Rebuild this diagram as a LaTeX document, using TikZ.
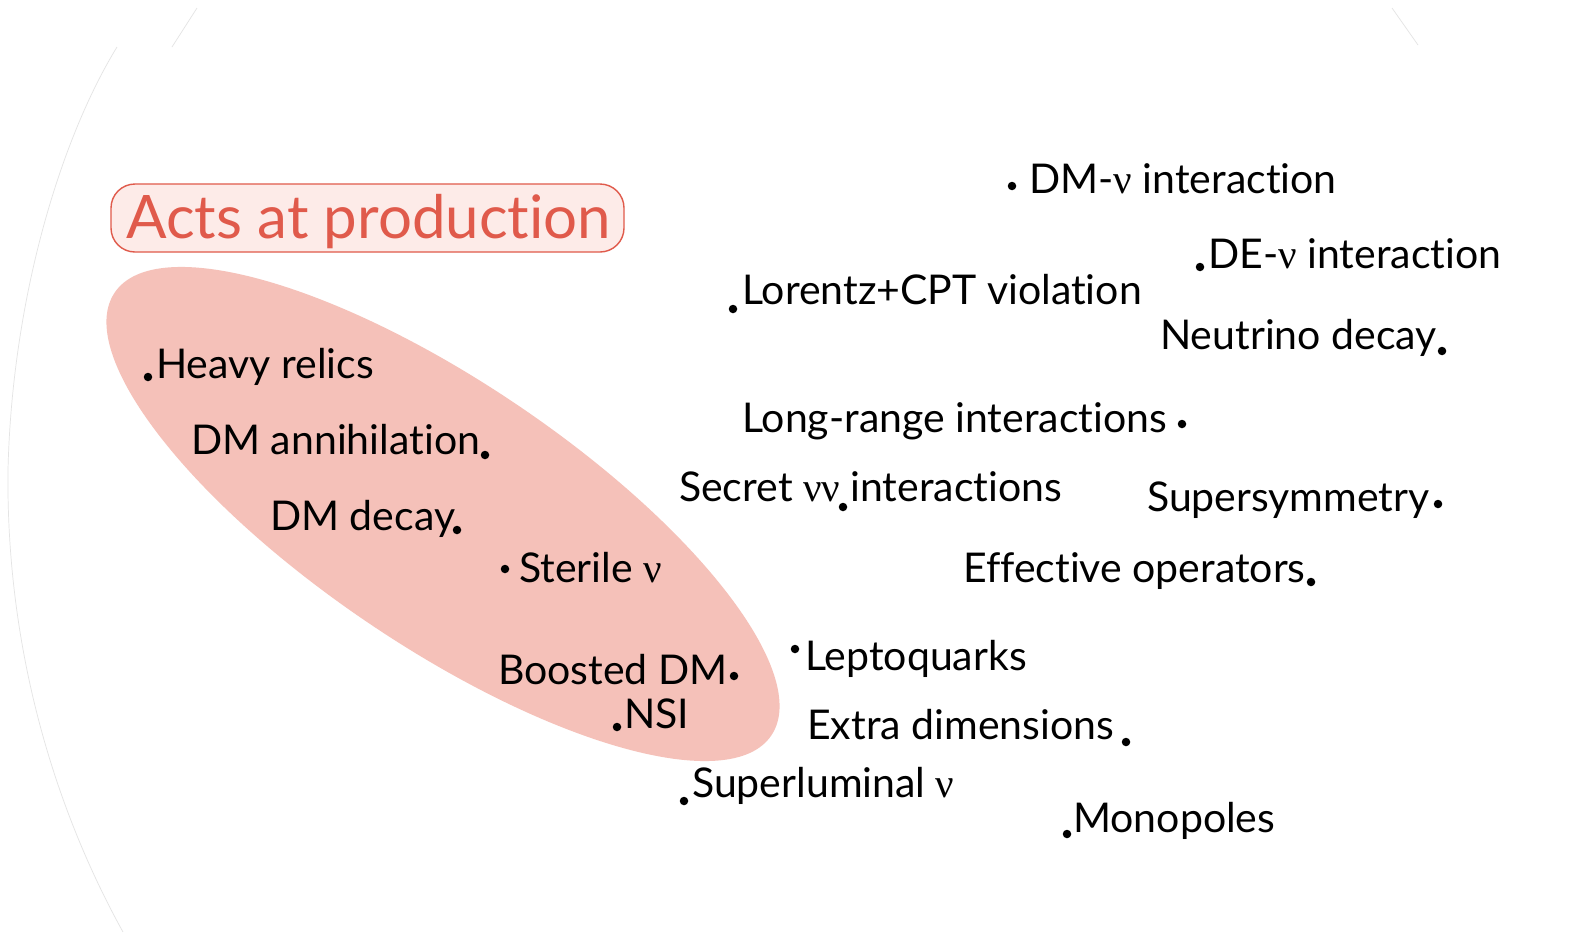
\documentclass[tikz,border=0pt]{standalone}
\usepackage{fontspec}
\setmainfont{Lato}[Ligatures={NoCommon}]
\newfontfamily\nufont{Liberation Serif}
\newcommand{\nus}{{\nufont ν}}
\definecolor{blobpink}{HTML}{F5C1B9}
\definecolor{tagred}{HTML}{E05A4B}
\definecolor{tagfill}{HTML}{FDEBE8}
\definecolor{rimgray}{HTML}{E4E4E4}
\begin{document}
\begin{tikzpicture}[x=1pt,y=-1pt,
  lbl/.style={anchor=base west, inner sep=0pt, font=\fontsize{41}{48}\selectfont, text=black},
  pt/.style={circle, fill=black, inner sep=0pt, minimum size=8.5pt},
  rim/.style={draw=rimgray, line width=0.7pt}]
\useasboundingbox (0,0) rectangle (1578,932);
\fill[white] (0,0) rectangle (1578,932);

% faint outline of the backdrop disc
\draw[rim] (117,47) .. controls (60,140) and (12,300) .. (8,470)
  .. controls (6,640) and (50,800) .. (123,932);
\draw[rim] (197,8) -- (172,47);
\draw[rim] (1392,8) -- (1418,45);

% shaded group
\fill[blobpink, rotate around={-34:(443,514)}] (443,514) ellipse [x radius=396pt, y radius=132pt];

% group tag
\node[draw=tagred, line width=1.4pt, fill=tagfill, rounded corners=24pt,
  minimum width=513pt, minimum height=68pt, inner sep=0pt] (tag) at (367.5,218) {};
\node[anchor=base west, inner sep=0pt, text=tagred, font=\fontsize{60}{70}\selectfont] (tagtxt) at (126,238) {Acts at production};

% items inside the group
\node[lbl] (relics) at (156,378) {Heavy relics};
\node[pt] (relicsdot) at (148,377) {};
\node[lbl] (annih) at (191,454) {DM annihilation};
\node[pt] (annihdot) at (485,455) {};
\node[lbl] (decay) at (270,530) {DM decay};
\node[pt] (decaydot) at (457,530) {};
\node[pt] (steriledot) at (505,569) {};
\node[lbl] (sterile) at (519,582) {Sterile \nus};
\node[lbl] (boosted) at (498,684) {Boosted DM};
\node[pt] (boosteddot) at (734,676) {};
\node[pt] (nsidot) at (617,727) {};
\node[lbl] (nsi) at (624,728) {NSI};

% items outside the group
\node[pt] (dmnudot) at (1012,186) {};
\node[lbl] (dmnu) at (1029,193) {DM-\nus{} interaction};
\node[pt] (denudot) at (1200,267) {};
\node[lbl] (denu) at (1208,268) {DE-\nus{} interaction};
\node[pt] (lorentzdot) at (733,309) {};
\node[lbl] (lorentz) at (742,304) {Lorentz+CPT violation};
\node[lbl] (nudecay) at (1160,349) {Neutrino decay};
\node[pt] (nudecaydot) at (1442,351) {};
\node[lbl] (longrange) at (742,432) {Long-range interactions};
\node[pt] (longrangedot) at (1182,424) {};
\node[lbl] (secret) at (679,501) {Secret \nus\nus\hspace{10pt}interactions};
\node[pt] (secretdot) at (843,507) {};
\node[lbl] (susy) at (1147,511) {Supersymmetry};
\node[pt] (susydot) at (1438,504) {};
\node[lbl] (effop) at (963,582) {Effective operators};
\node[pt] (effopdot) at (1311,582) {};
\node[pt] (lqdot) at (795,649) {};
\node[lbl] (lq) at (805,670) {Leptoquarks};
\node[lbl] (extra) at (807,739) {Extra dimensions};
\node[pt] (extradot) at (1126,742) {};
\node[pt] (superlumdot) at (684,801) {};
\node[lbl] (superlum) at (692,797) {Superluminal \nus};
\node[pt] (monodot) at (1067,834) {};
\node[lbl] (mono) at (1073,832) {Monopoles};
\end{tikzpicture}
\end{document}
